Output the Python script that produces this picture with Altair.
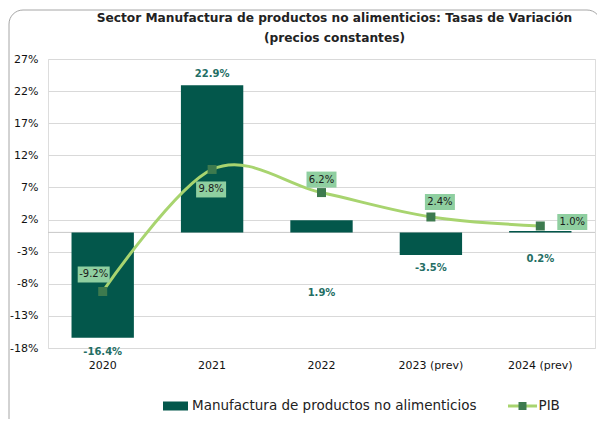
import altair as alt
import pandas as pd

# ---------------- data ----------------
years = ["2020", "2021", "2022", "2023 (prev)", "2024 (prev)"]
manufactura = [-16.4, 22.9, 1.9, -3.5, 0.2]
pib = [-9.2, 9.8, 6.2, 2.4, 1.0]
y_ticks = [-18, -13, -8, -3, 2, 7, 12, 17, 22, 27]
serie_bar = "Manufactura de productos no alimenticios"
serie_line = "PIB"
title_lines = ["Sector Manufactura de productos no alimenticios: Tasas de Variación",
               "(precios constantes)"]

# ---------------- styling ----------------
FONT = "DejaVu Sans"
BAR = "#03574B"
LINE = "#A8D46F"
PT = "#3D7A4E"
BOX = "#8FCFA0"
LBL = "#246E64"
GRID = "#d9d9d9"

# label placement in pixels (style only)
bar_label_dy = [14, -11, 73, 13.5, 28]
pib_label_dxdy = [(-9, -17), (-1, 20), (0, -13), (9, -15), (32, -4)]

df = pd.DataFrame({
    "anio": years,
    "manuf": manufactura,
    "pib": pib,
    "serie": serie_bar,
    "serie_l": serie_line,
    "serie_p": "PIB_pt",
})
df["manuf_txt"] = [f"{v:.1f}%" for v in manufactura]
df["pib_txt"] = [f"{v:.1f}%" for v in pib]

x_axis = alt.Axis(title=None, labelAngle=0, ticks=False, domain=False, labelPadding=11,
                  labelFontSize=11, labelColor="#111", labelFont=FONT)
x_enc = alt.X("anio:N", sort=years,
              scale=alt.Scale(domain=years, paddingInner=0.43, paddingOuter=0.215),
              axis=x_axis)
y_scale = alt.Scale(domain=[-18, 27], nice=False, zero=False)
y_axis = alt.Axis(title=None, values=y_ticks, labelExpr="datum.value + '%'", ticks=False,
                  domain=False, grid=True, gridColor=GRID, gridWidth=1, labelPadding=10,
                  labelFontSize=11, labelColor="#111", labelFont=FONT,
                  labelOverlap=False, labelBound=False, labelFlush=False)


def y_enc(field):
    return alt.Y(f"{field}:Q", scale=y_scale, axis=y_axis)


one = pd.DataFrame({"k": [0], "z": [0]})

frame = alt.Chart(one).mark_rect(fillOpacity=0, stroke="#a6a6a6", strokeWidth=1,
                                 cornerRadius=14).encode(
    x=alt.value(-39), x2=alt.value(553), y=alt.value(-49), y2=alt.value(420))

zero_rule = alt.Chart(one).mark_rule(color="#c8c8c8", strokeWidth=1).encode(y=y_enc("z"))

bars = alt.Chart(df).mark_bar(opacity=1).encode(
    x=x_enc,
    y=y_enc("manuf"),
    y2=alt.datum(0),
    color=alt.Color("serie:N", scale=alt.Scale(domain=[serie_bar], range=[BAR]),
                    legend=alt.Legend(orient="none", legendX=115, legendY=334.5, title=None,
                                      symbolType="M-1,-0.36H1V0.36H-1Z", symbolSize=625,
                                      symbolStrokeWidth=0, labelFontSize=13.5, labelFont=FONT,
                                      labelColor="#222", labelOffset=4, padding=0,
                                      labelLimit=500)),
)

line = alt.Chart(df).mark_line(interpolate="cardinal", strokeWidth=3).encode(
    x=x_enc,
    y=y_enc("pib"),
    stroke=alt.Stroke("serie_l:N", scale=alt.Scale(domain=[serie_line], range=[LINE]),
                      legend=alt.Legend(orient="none", legendX=458.5, legendY=331, title=None,
                                        symbolType="M-1,0H1", symbolSize=841,
                                        symbolStrokeWidth=3, labelFontSize=13.5,
                                        labelFont=FONT, labelColor="#222", labelOffset=0,
                                        padding=0)),
)

squares = alt.Chart(df).mark_square(size=81, opacity=1).encode(
    x=x_enc,
    y=y_enc("pib"),
    fill=alt.Fill("serie_p:N", scale=alt.Scale(domain=["PIB_pt"], range=[PT]),
                  legend=alt.Legend(orient="none", legendX=467.75, legendY=340.25, title=None,
                                    symbolType="square", symbolSize=64, symbolStrokeWidth=0,
                                    labelExpr="''", labelFontSize=13.5, padding=0)),
)

layers = [frame, zero_rule, bars, line, squares]

for i, yr in enumerate(years):
    base = alt.Chart(df).transform_filter(alt.datum.anio == yr)
    layers.append(base.mark_text(font=FONT, fontSize=10, fontWeight="bold", color=LBL,
                                 dy=bar_label_dy[i], baseline="middle").encode(
        x=x_enc, y=y_enc("manuf"), text="manuf_txt:N"))
    dx, dy = pib_label_dxdy[i]
    w = 22 + 2 * len(df["pib_txt"][i])
    h = 16 / w
    path = f"M-1,-{h:.4f}H1V{h:.4f}H-1Z"
    layers.append(base.mark_point(shape=path, filled=True, size=w * w, color=BOX, opacity=1,
                                  strokeWidth=0, xOffset=dx, yOffset=dy).encode(
        x=x_enc, y=y_enc("pib")))
    layers.append(base.mark_text(font=FONT, fontSize=10, color="#1a1a1a", dx=dx, dy=dy,
                                 baseline="middle").encode(
        x=x_enc, y=y_enc("pib"), text="pib_txt:N"))

chart = alt.layer(*layers).properties(
    width=547,
    height=289,
    title=alt.TitleParams(text=title_lines, font=FONT, fontSize=12.2, fontWeight="bold",
                          color="#222", anchor="middle", frame="group", dx=13, dy=35,
                          offset=0, lineHeight=20),
    autosize=alt.AutoSizeParams(type="none"),
    padding={"left": 40, "top": 51, "right": 2, "bottom": 71},
).configure_view(stroke=None).configure(font=FONT)

chart.save("out.html", embed_options={"renderer": "svg", "actions": False})
